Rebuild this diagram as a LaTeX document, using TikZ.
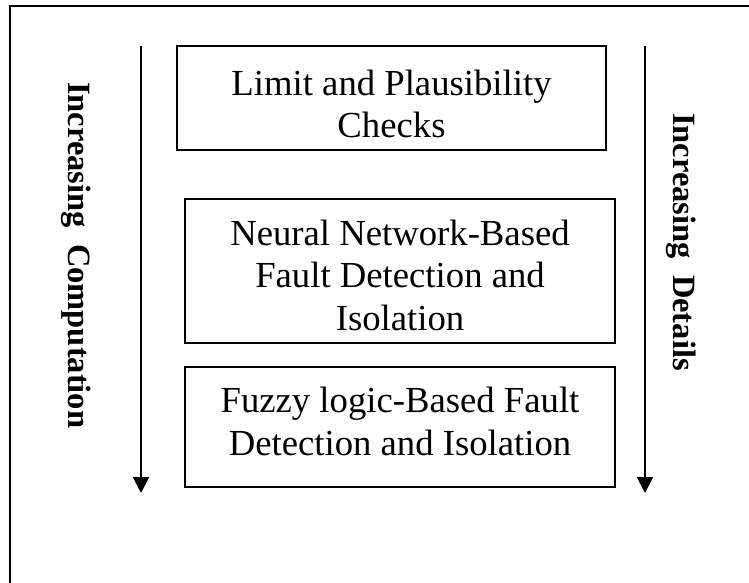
\documentclass[tikz,border=0pt]{standalone}
\usepackage{fontspec}
\setmainfont{Liberation Serif}
\usetikzlibrary{arrows.meta}
\begin{document}
\begin{tikzpicture}[x=1pt,y=-1pt,
  stagebox/.style={draw, line width=1.3pt, inner sep=0pt, minimum width=#1},
  % base anchor of a multi-line node sits on its last line
  stagetext/.style={inner sep=0pt, anchor=base, align=center,
    font=\fontsize{36.7}{42.5}\selectfont},
  sidelabel/.style={inner sep=0pt, rotate=-90, anchor=base west,
    font=\fontsize{32.5}{40}\selectfont\bfseries},
  trend/.style={line width=2pt, -{Triangle[width=16pt,length=16pt]}}]
\useasboundingbox (0,0) rectangle (749,583);

% frame
\draw[line width=2pt] (10,583) -- (10,6) -- (749,6);

% stages
\node[stagebox=429pt, minimum height=104pt] (b1) at (391.5,98) {};
\node[stagebox=430pt, minimum height=144pt] (b2) at (400,271) {};
\node[stagebox=430pt, minimum height=120pt] (b3) at (400,427) {};

\node[stagetext] (t1) at (391.5,138) {Limit and Plausibility\\Checks};
\node[stagetext] (t2) at (400,330) {Neural Network-Based\\Fault Detection and\\Isolation};
\node[stagetext] (t3) at (400,455) {Fuzzy logic-Based Fault\\Detection and Isolation};

% trend arrows
\coordinate (l0) at (141,46);
\coordinate (l1) at (141,493);
\coordinate (r0) at (645,46);
\coordinate (r1) at (645,493);
\draw[trend] (l0) -- (l1);
\draw[trend] (r0) -- (r1);

% side labels
\node[sidelabel] (lc) at (68,82) {Increasing\ \ Computation};
\node[sidelabel] (rd) at (673,113) {Increasing\ \ Details};
\end{tikzpicture}
\end{document}
